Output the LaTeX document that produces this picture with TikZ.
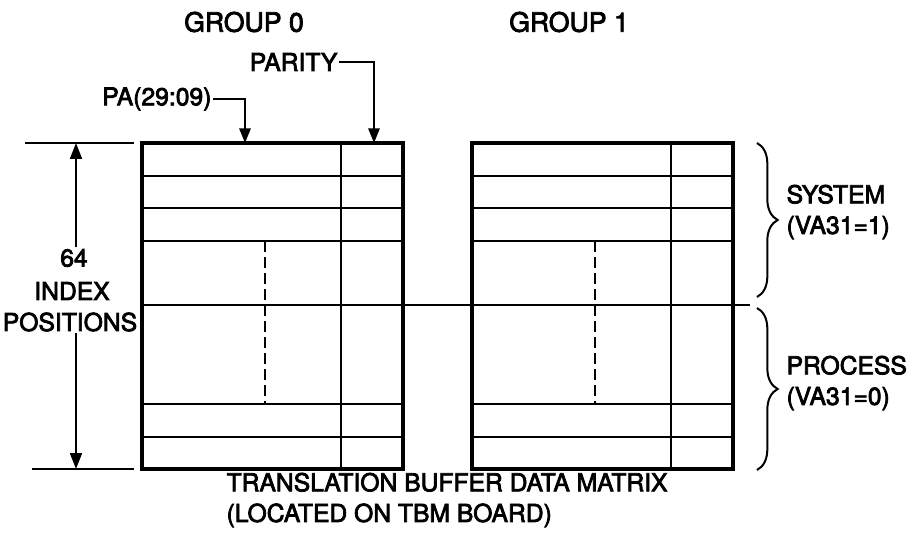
\documentclass[tikz,border=0pt]{standalone}
\usepackage{fontspec}
\setmainfont{TeX Gyre Heros}[RawFeature={embolden=3}]
\usetikzlibrary{arrows.meta,decorations.pathreplacing}

\tikzset{
  lbl/.style={inner sep=1pt, font=\fontsize{18.5}{23}\selectfont},
  grplbl/.style={inner sep=1pt, font=\fontsize{20}{23}\selectfont},
  tbbox/.style={draw, line width=2.6pt, inner sep=0pt, minimum width=195.75pt, minimum height=244.5pt},
  thinline/.style={line width=1.4pt},
  feed/.style={line width=1.5pt, -{Triangle[length=11pt,width=8.5pt]}},
  dimarrow/.style={line width=1.5pt, -{Triangle[length=12pt,width=9pt]}},
  rbrace/.style={line width=1.5pt, decorate, decoration={brace, amplitude=15.5pt}},
}

\begin{document}
\begin{tikzpicture}[x=0.75pt,y=0.75pt,yscale=-1]
\useasboundingbox (0,0) rectangle (909,538);

% the two groups
\node[tbbox] (g0) at (272.5,306) {};
\node[tbbox] (g1) at (602.5,306) {};

% rows, parity column and dashed split
\foreach \xl in {142,472} {
  \foreach \yr in {176,208,241,404,437}
    \draw[thinline] (\xl,\yr) -- (\xl+261,\yr);
  \draw[thinline] (\xl+199,143) -- (\xl+199,469);
  \draw[thinline, dash pattern=on 8pt off 4pt] (\xl+123,241) -- (\xl+123,404);
}
% system / process boundary
\draw[thinline] (142,305) -- (750,305);

% Text Node
\node[grplbl] (grp0) at (244,22) {GROUP 0};
\node[grplbl] (grp1) at (569,22) {GROUP 1};
\node[lbl, anchor=east] (pa) at (213,99) {PA(29:09)};
\node[lbl, anchor=east] (parity) at (339,62) {PARITY};

\coordinate (paTip) at (245,143);
\coordinate (parTip) at (374,143);
\draw[feed] (pa.east) -| (paTip);
\draw[feed] (parity.east) -| (parTip);

% index dimension
\node[lbl] (n64) at (74,258) {64};
\node[lbl] (idx) at (72,291) {INDEX};
\node[lbl] (pos) at (70,322) {POSITIONS};
\coordinate (dimTop) at (76,143);
\coordinate (dimBot) at (76,469);
\draw[thinline] (25,143) -- (134,143);
\draw[thinline] (32,469) -- (134,469);
\draw[dimarrow] (dimTop |- n64.north) -- (dimTop);
\draw[dimarrow] (dimBot |- pos.south) -- (dimBot);

% braces
\draw[rbrace] (757,143) -- (757,297);
\draw[rbrace] (757,308) -- (757,470);
\node[lbl, anchor=west, align=left] (sys) at (785,212) {SYSTEM\\(VA31=1)};
\node[lbl, anchor=west, align=left] (proc) at (785,383) {PROCESS\\(VA31=0)};

% Text Node
\node[lbl, anchor=west, align=left] (caption) at (225,500) {TRANSLATION BUFFER DATA MATRIX\\(LOCATED ON TBM BOARD)};
\end{tikzpicture}
\end{document}
